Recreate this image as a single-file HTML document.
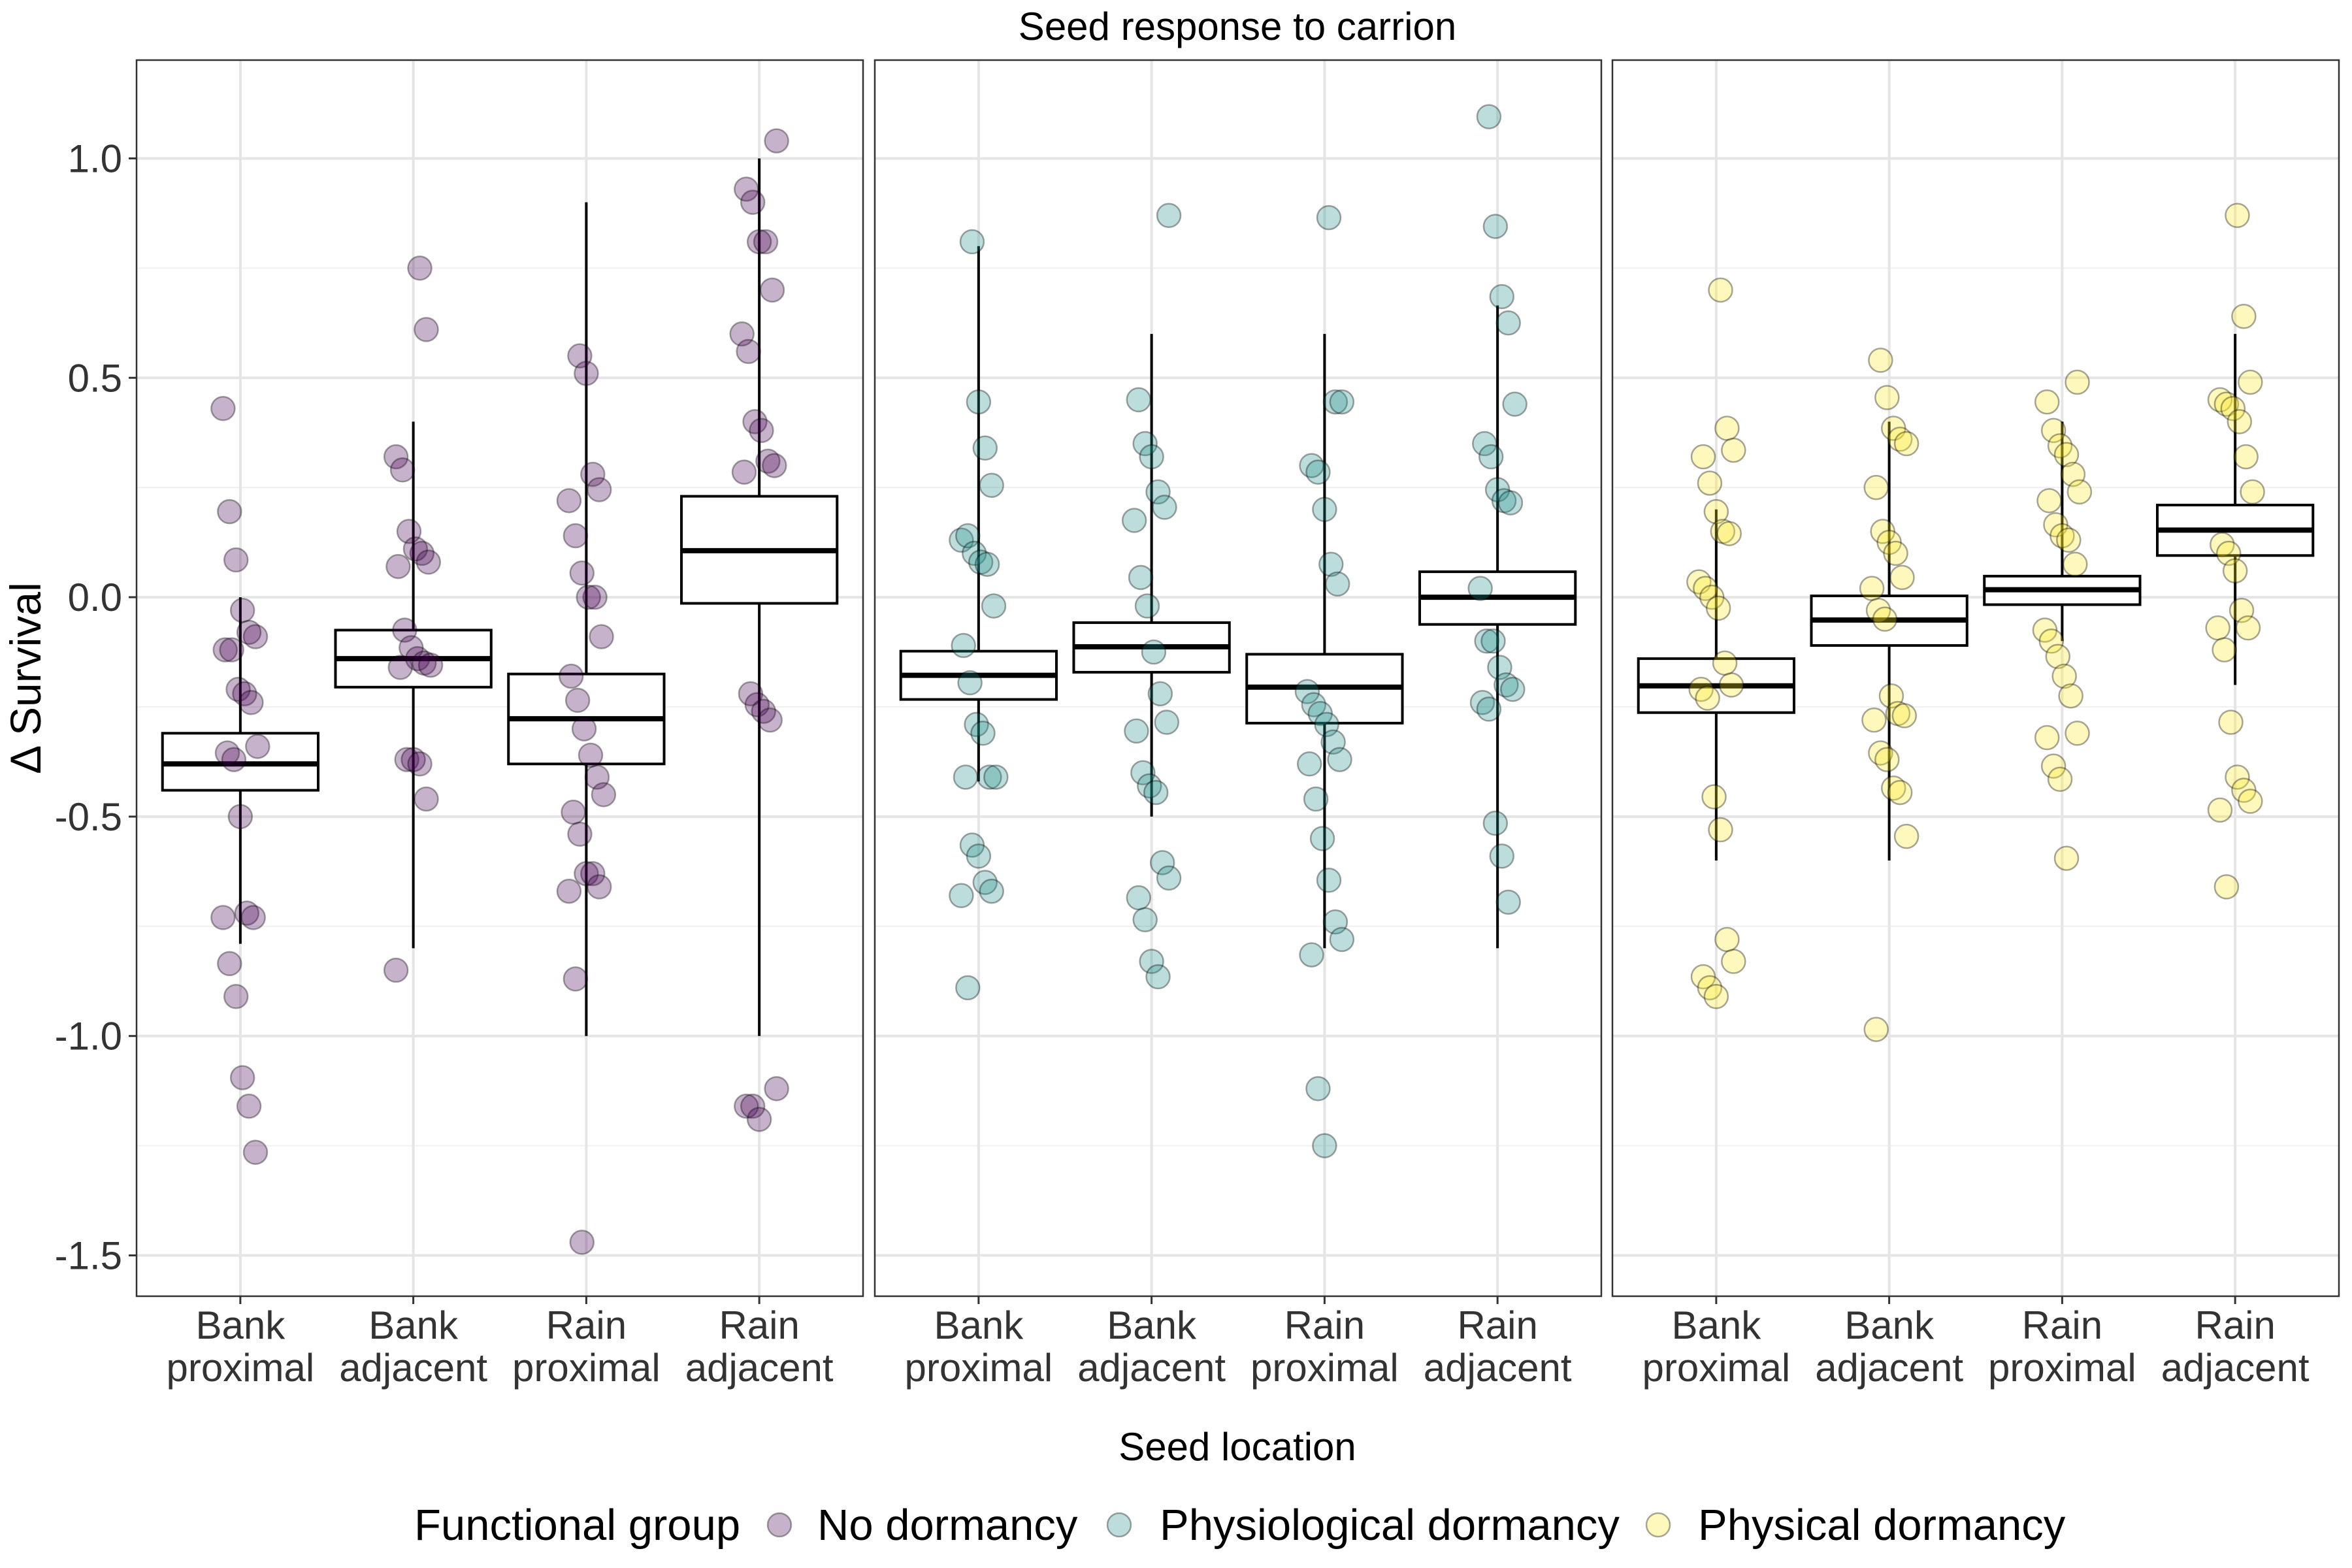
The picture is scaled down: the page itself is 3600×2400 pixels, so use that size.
<!DOCTYPE html>
<html><head><meta charset="utf-8">
<style>
html,body{margin:0;padding:0;background:#fff;}
svg{display:block;font-family:"Liberation Sans",Arial,sans-serif;}
</style></head>
<body>
<svg id="chart" width="3600" height="2400" viewBox="0 0 3600 2400" xmlns="http://www.w3.org/2000/svg">
<rect width="3600" height="2400" fill="#fff"/>
<text x="1894" y="61" font-size="60" text-anchor="middle" fill="#000">Seed response to carrion</text>
<text x="0" y="0" font-size="66" text-anchor="middle" fill="#000" transform="translate(62,1038) rotate(-90)">Δ Survival</text>
<text x="1894" y="2235" font-size="60" text-anchor="middle" fill="#000">Seed location</text>
<g id="legend">
<text x="634" y="2357" font-size="67" fill="#000">Functional group</text>
<circle cx="1193" cy="2334" r="18" fill="rgba(68,1,84,0.3)" stroke="rgba(0,0,0,0.35)" stroke-width="2.5"/>
<text x="1251" y="2357" font-size="67" fill="#000">No dormancy</text>
<circle cx="1713" cy="2334" r="18" fill="rgba(33,144,140,0.3)" stroke="rgba(0,0,0,0.35)" stroke-width="2.5"/>
<text x="1775" y="2357" font-size="67" fill="#000">Physiological dormancy</text>
<circle cx="2538" cy="2334" r="18" fill="rgba(253,231,37,0.3)" stroke="rgba(0,0,0,0.35)" stroke-width="2.5"/>
<text x="2599" y="2357" font-size="67" fill="#000">Physical dormancy</text>
</g>
</svg>
<script>
const categories = ["Bank proximal","Bank adjacent","Rain proximal","Rain adjacent"];
const groups = ["No dormancy","Physiological dormancy","Physical dormancy"];
const yTicks = [1.0,0.5,0.0,-0.5,-1.0,-1.5];
const yTickLabels = ["1.0","0.5","0.0","-0.5","-1.0","-1.5"];
// box stats per group per category: [whiskerLow, q1, median, q3, whiskerHigh]
const boxNoDormancy = [
  [-0.79,-0.44,-0.38,-0.31,0.0],
  [-0.80,-0.205,-0.14,-0.075,0.40],
  [-1.0,-0.38,-0.277,-0.175,0.90],
  [-1.0,-0.014,0.106,0.23,1.0]];
const boxPhysiological = [
  [-0.42,-0.233,-0.178,-0.123,0.80],
  [-0.50,-0.171,-0.113,-0.058,0.60],
  [-0.80,-0.287,-0.205,-0.13,0.60],
  [-0.80,-0.062,0.0,0.058,0.665]];
const boxPhysical = [
  [-0.60,-0.263,-0.202,-0.14,0.20],
  [-0.60,-0.11,-0.052,0.003,0.40],
  [-0.10,-0.017,0.017,0.048,0.40],
  [-0.20,0.095,0.153,0.21,0.60]];
const ptsNoDormancy = [
  [0.43,0.195,0.085,-0.03,-0.08,-0.09,-0.12,-0.12,-0.21,-0.22,-0.24,-0.34,-0.355,-0.37,-0.50,-0.72,-0.73,-0.73,-0.835,-0.91,-1.095,-1.16,-1.265],
  [0.75,0.61,0.32,0.29,0.15,0.11,0.10,0.08,0.07,-0.075,-0.115,-0.14,-0.15,-0.155,-0.16,-0.37,-0.37,-0.38,-0.46,-0.85],
  [0.55,0.51,0.28,0.245,0.22,0.14,0.055,0.0,0.0,-0.09,-0.18,-0.235,-0.3,-0.36,-0.41,-0.45,-0.49,-0.54,-0.63,-0.63,-0.66,-0.67,-0.87,-1.47],
  [1.04,0.93,0.90,0.81,0.81,0.70,0.60,0.56,0.40,0.38,0.31,0.30,0.285,-0.22,-0.245,-0.26,-0.28,-1.12,-1.16,-1.16,-1.19]];
const ptsPhysiological = [
  [0.81,0.445,0.34,0.255,0.13,0.14,0.1,0.08,0.075,-0.02,-0.11,-0.195,-0.29,-0.31,-0.41,-0.41,-0.41,-0.565,-0.59,-0.65,-0.67,-0.68,-0.89],
  [0.87,0.45,0.35,0.32,0.24,0.205,0.175,0.045,-0.02,-0.125,-0.22,-0.285,-0.305,-0.4,-0.43,-0.445,-0.605,-0.64,-0.685,-0.735,-0.83,-0.865],
  [0.865,0.445,0.445,0.3,0.285,0.2,0.075,0.03,-0.215,-0.245,-0.265,-0.29,-0.33,-0.37,-0.38,-0.46,-0.55,-0.645,-0.74,-0.78,-0.815,-1.12,-1.25],
  [1.095,0.845,0.685,0.625,0.44,0.35,0.32,0.245,0.22,0.215,0.02,-0.1,-0.1,-0.16,-0.2,-0.21,-0.24,-0.255,-0.515,-0.59,-0.695]];
const ptsPhysical = [
  [0.70,0.385,0.335,0.32,0.26,0.195,0.15,0.145,0.035,0.02,0.0,-0.025,-0.15,-0.2,-0.21,-0.23,-0.455,-0.53,-0.78,-0.83,-0.865,-0.89,-0.91],
  [0.54,0.455,0.385,0.36,0.35,0.25,0.15,0.125,0.1,0.045,0.02,-0.03,-0.05,-0.225,-0.265,-0.27,-0.28,-0.355,-0.37,-0.435,-0.445,-0.545,-0.985],
  [0.49,0.445,0.38,0.345,0.325,0.28,0.24,0.22,0.165,0.14,0.13,0.075,-0.075,-0.1,-0.135,-0.18,-0.225,-0.31,-0.32,-0.385,-0.415,-0.595],
  [0.87,0.64,0.49,0.45,0.44,0.43,0.4,0.32,0.24,0.12,0.1,0.06,-0.03,-0.07,-0.07,-0.12,-0.285,-0.41,-0.44,-0.465,-0.485,-0.66]];

const NS="http://www.w3.org/2000/svg";
const svg=document.getElementById('chart');
const panelLeft=[209,1339,2468], panelW=1112, panelTop=92, panelBottom=1984;
const yMin=-1.593, yMax=1.224;
function yScale(v){return panelBottom-(v-yMin)/(yMax-yMin)*(panelBottom-panelTop);}
function xCat(p,i){return panelLeft[p]+panelW*(0.6+i)/4.2;}
function mk(tag,attrs,parent){const e=document.createElementNS(NS,tag);for(const k in attrs)e.setAttribute(k,attrs[k]);(parent||svg).appendChild(e);return e;}
const fills=["rgba(68,1,84,0.3)","rgba(33,144,140,0.3)","rgba(253,231,37,0.3)"];
const boxes=[boxNoDormancy,boxPhysiological,boxPhysical];
const pts=[ptsNoDormancy,ptsPhysiological,ptsPhysical];
const legendNode=document.getElementById('legend');
for(let p=0;p<3;p++){
  const g=mk('g',{});
  
  
  svg.insertBefore(g,legendNode);
  for(let v=-1.25;v<=1.0;v+=0.5){
    const l=mk('line',{x1:panelLeft[p],x2:panelLeft[p]+panelW,y1:yScale(v),y2:yScale(v),stroke:'#f0f0f0','stroke-width':2},g);
    
    
  }
  yTicks.forEach(v=>{
    const l=mk('line',{x1:panelLeft[p],x2:panelLeft[p]+panelW,y1:yScale(v),y2:yScale(v),stroke:'#e5e5e5','stroke-width':4},g);
    
    
  });
  categories.forEach((c,i)=>{
    const l=mk('line',{x1:xCat(p,i),x2:xCat(p,i),y1:panelTop,y2:panelBottom,stroke:'#e5e5e5','stroke-width':4},g);
    
    
  });
  categories.forEach((c,i)=>{
    const b=boxes[p][i], cx=xCat(p,i), hw=panelW/4.2*0.45;
    const w=mk('line',{x1:cx,x2:cx,y1:yScale(b[4]),y2:yScale(b[0]),stroke:'#000','stroke-width':4},g);
    
    
    const r=mk('rect',{x:cx-hw,y:yScale(b[3]),width:2*hw,height:yScale(b[1])-yScale(b[3]),fill:'#fff',stroke:'#000','stroke-width':4},g);
    
    
    const m=mk('line',{x1:cx-hw,x2:cx+hw,y1:yScale(b[2]),y2:yScale(b[2]),stroke:'#000','stroke-width':8},g);
    
    
  });
  categories.forEach((c,i)=>{
    pts[p][i].forEach((v,k)=>{
      const j=(((k*37+i*11+p*5)%17)/16-0.5)*0.2;
      const cx=xCat(p,i)+j*panelW/4.2;
      const pt=mk('circle',{cx:cx,cy:yScale(v),r:18,fill:fills[p],stroke:'rgba(0,0,0,0.35)','stroke-width':2.5},g);
      
      
    });
  });
  const fr=mk('rect',{x:panelLeft[p],y:panelTop,width:panelW,height:panelBottom-panelTop,fill:'none',stroke:'#333','stroke-width':2.5},g);
  
  
  categories.forEach((c,i)=>{
    const cx=xCat(p,i);
    const t=mk('line',{x1:cx,x2:cx,y1:panelBottom,y2:panelBottom+12,stroke:'#333','stroke-width':3},g);
    
    
    const parts=c.split(' ');
    parts.forEach((s,li)=>{
      const tx=mk('text',{x:cx,y:2049+li*65,'font-size':60,'text-anchor':'middle',fill:'#333'},g);
      tx.textContent=s;
      
      
    });
  });
}
yTicks.forEach((v,i)=>{
  const t=mk('line',{x1:197,x2:209,y1:yScale(v),y2:yScale(v),stroke:'#333','stroke-width':3});
  
  
  const tx=mk('text',{x:187,y:yScale(v)+21,'font-size':60,'text-anchor':'end',fill:'#333'});
  tx.textContent=yTickLabels[i];
  
  
});
</script>
</body></html>
